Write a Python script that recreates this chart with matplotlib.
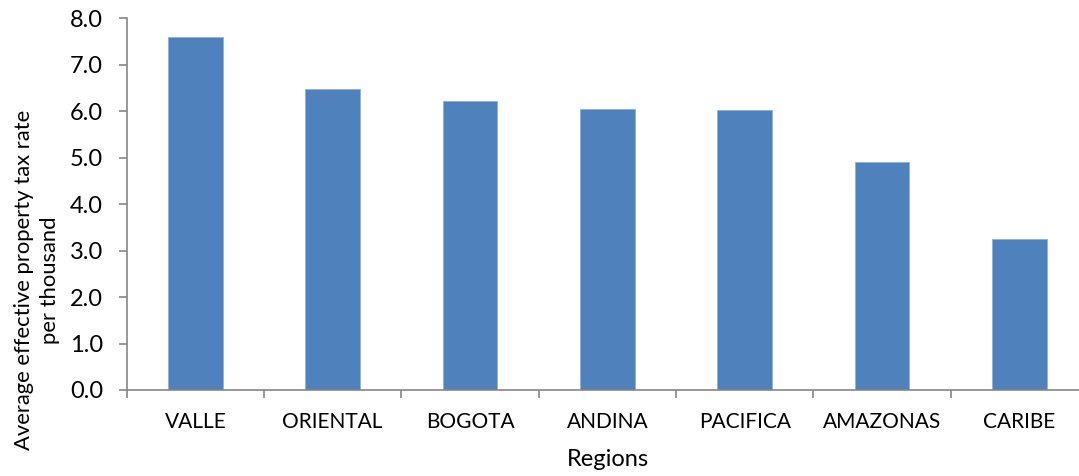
import matplotlib
matplotlib.use("Agg")
import matplotlib.pyplot as plt

regions = ["VALLE", "ORIENTAL", "BOGOTA", "ANDINA", "PACIFICA", "AMAZONAS", "CARIBE"]
rates = [7.59, 6.47, 6.21, 6.04, 6.02, 4.90, 3.26]
yticks = [0.0, 1.0, 2.0, 3.0, 4.0, 5.0, 6.0, 7.0, 8.0]

plt.rcParams['font.family'] = ['Lato', 'DejaVu Sans']

W, H = 1079, 476
fig = plt.figure(figsize=(W / 100, H / 100), dpi=100)
left, right, bottom, top = 126.7, 1088.0, 390.0, 18.3
ax = fig.add_axes([left / W, 1 - bottom / H, (right - left) / W, (bottom - top) / H])

x = list(range(len(regions)))
ax.bar(x, rates, width=0.4, color="#4F81BD", edgecolor="#8EB0DA", linewidth=0.6)

ax.set_xlim(-0.5, len(regions) - 0.5)
ax.set_ylim(0, 8)
ax.set_yticks(yticks)
ax.set_yticklabels([f"{v:.1f}" for v in yticks])
ax.set_xticks(x)
ax.set_xticklabels(regions)
ax.set_xticks([i - 0.5 for i in range(len(regions))], minor=True)

for s in ["top", "right"]:
    ax.spines[s].set_visible(False)
for s in ["left", "bottom"]:
    ax.spines[s].set_color("#868686")
    ax.spines[s].set_linewidth(1.2)

ax.tick_params(axis="y", direction="out", length=6, width=1.2, color="#868686",
               labelsize=17, pad=11, labelcolor="black")
ax.tick_params(axis="x", which="major", length=0, labelsize=15, pad=16, labelcolor="black")
ax.tick_params(axis="x", which="minor", direction="out", length=5.5, width=1.2, color="#868686")

fig.text(37 / W, 1 - 450 / H, "Average effective property tax rate\nper thousand",
         rotation=90, rotation_mode="anchor", ha="left", va="center",
         multialignment="center", fontsize=15.8, linespacing=1.4)
fig.text(608 / W, 1 - 460 / H, "Regions", ha="center", va="center", fontsize=17)

fig.savefig("out.png", dpi=100)
